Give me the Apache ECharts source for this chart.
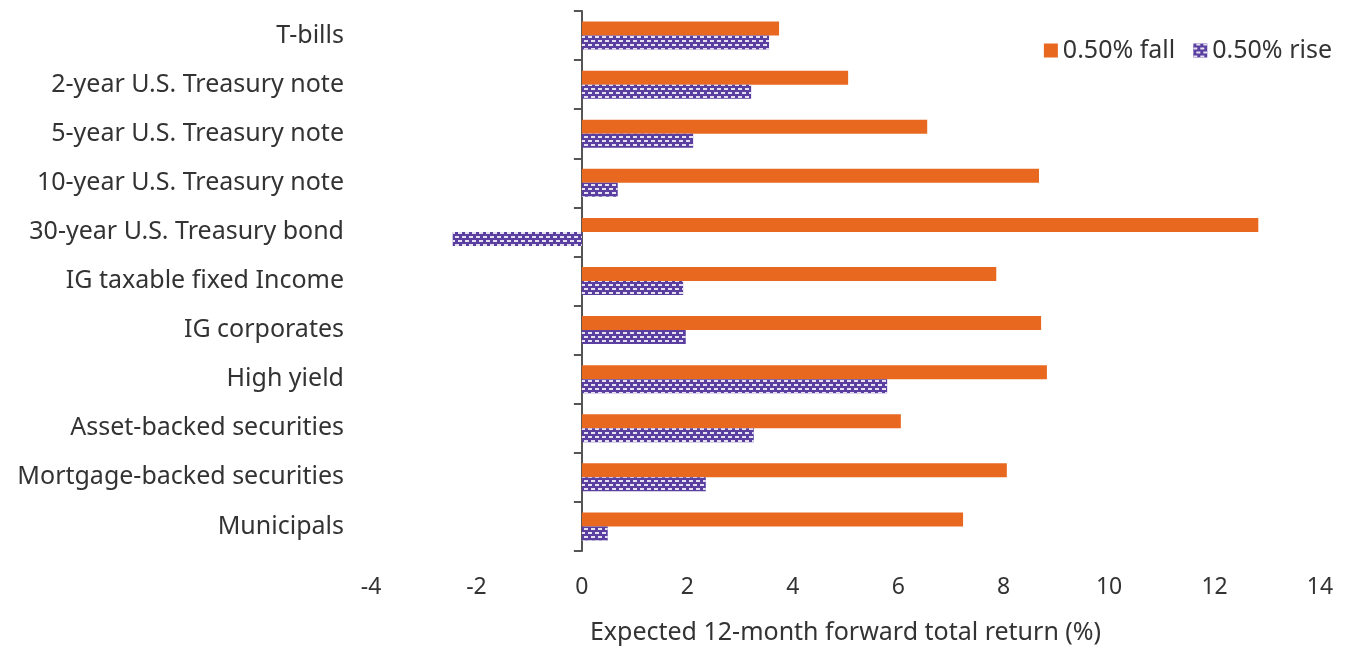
<!DOCTYPE html>
<html><head><meta charset="utf-8">
<script src="https://cdn.jsdelivr.net/npm/echarts@6/dist/echarts.min.js"></script>
<style>html,body{margin:0;padding:0;background:#fff}#c{width:1351px;height:648px}</style>
</head><body><div id="c"></div>
<script>
const categories = ["T-bills","2-year U.S. Treasury note","5-year U.S. Treasury note","10-year U.S. Treasury note","30-year U.S. Treasury bond","IG taxable fixed Income","IG corporates","High yield","Asset-backed securities","Mortgage-backed securities","Municipals"];
const fallValues = [3.74, 5.05, 6.55, 8.67, 12.83, 7.86, 8.71, 8.82, 6.05, 8.06, 7.23];
const riseValues = [3.55, 3.21, 2.11, 0.68, -2.45, 1.92, 1.97, 5.79, 3.26, 2.35, 0.49];
const xTicks = {min: -4, max: 14, interval: 2};

const font = "'Noto Sans', sans-serif";
const chart = echarts.init(document.getElementById('c'));
chart.setOption({
  animation: false,
  textStyle: {fontFamily: font},
  grid: {left: 371, right: 31, top: 11, bottom: 97, containLabel: false, outerBoundsMode: 'none'},
  legend: {
    right: 14, top: 33, itemWidth: 14, itemHeight: 14, itemGap: 18, icon: 'rect',
    textStyle: {fontSize: 25, color: '#333', fontFamily: font},
    data: ['0.50% fall', '0.50% rise']
  },
  xAxis: {
    type: 'value', min: xTicks.min, max: xTicks.max, interval: xTicks.interval,
    splitLine: {show: false}, axisLine: {show: false}, axisTick: {show: false},
    axisLabel: {fontSize: 23, color: '#333', margin: 25, fontFamily: font},
    name: 'Expected 12-month forward total return (%)', nameLocation: 'middle', nameGap: 69,
    nameTextStyle: {fontSize: 25, color: '#333', fontFamily: font}
  },
  yAxis: {
    type: 'category', inverse: true, data: categories,
    axisLine: {show: true, onZero: true, lineStyle: {color: '#555', width: 2}},
    axisTick: {show: true, length: 8, lineStyle: {color: '#555', width: 2}},
    axisLabel: {fontSize: 25, color: '#333', margin: 27, fontFamily: font}
  },
  series: [
    {name: '0.50% fall', type: 'bar', data: fallValues, barWidth: 14, barGap: '0%',
     itemStyle: {color: '#e8681f'}, z: 2},
    {name: '0.50% rise', type: 'bar', data: riseValues, barWidth: 14, barGap: '0%',
     itemStyle: {color: '#5a3fa0', decal: {symbol: 'rect', color: 'rgba(255,255,255,0.85)',
       dashArrayX: [[4, 3], [0, 3, 4, 0]], dashArrayY: [2, 2], symbolSize: 1, rotation: 0}}, z: 2}
  ]
});
</script></body></html>
